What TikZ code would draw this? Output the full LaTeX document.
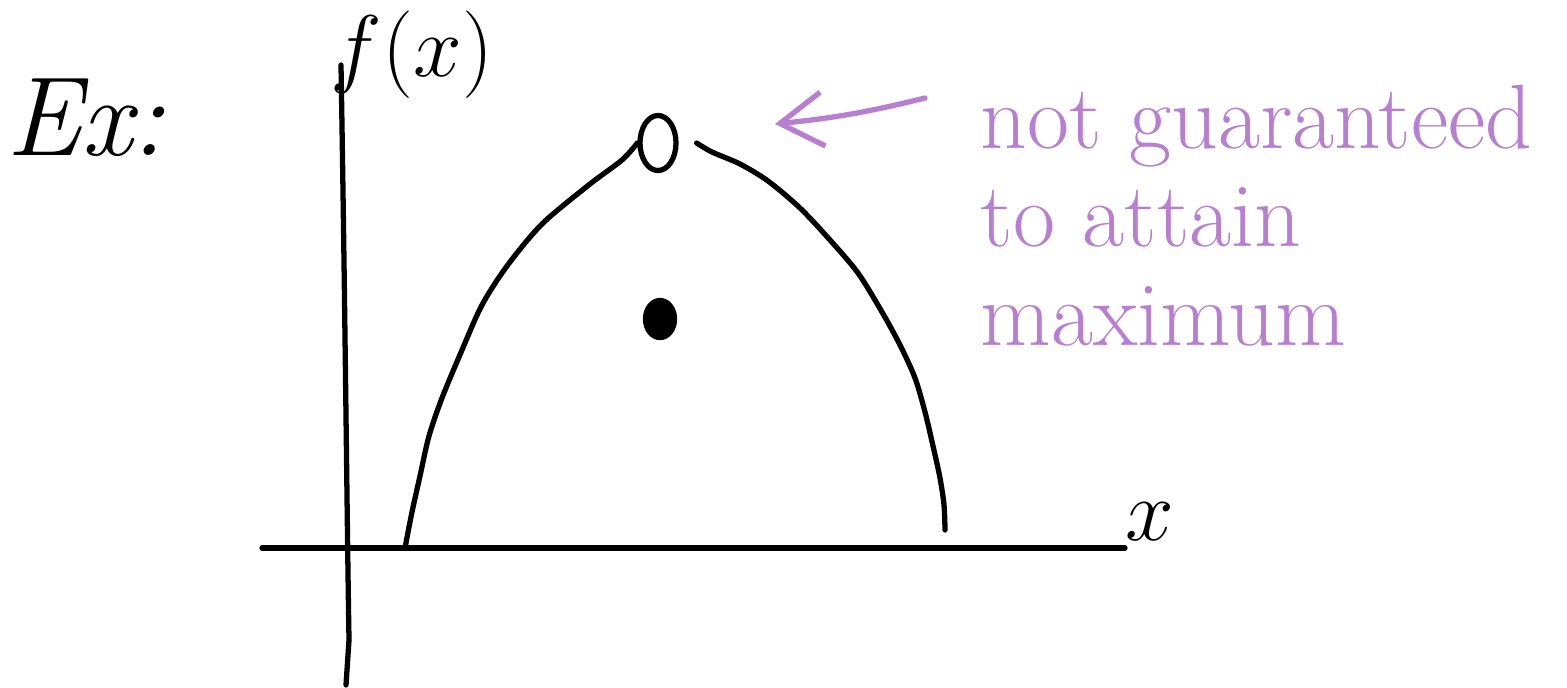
\documentclass[tikz,border=0pt]{standalone}
\usepackage{amsmath}
\usepackage{tikz}
\usetikzlibrary{arrows.meta, positioning, calc, shapes.geometric}
\definecolor{notec}{HTML}{B77ED1}
\tikzset{
  pen/.style={line width=1.5pt, line cap=round, line join=round},
  notepen/.style={pen, notec},
}

\begin{document}
\begin{tikzpicture}[x=0.01cm, y=-0.01cm,
          >={Straight Barb[length=4.3mm, width=5.4mm]}]
  \useasboundingbox (0,0) rectangle (1567,687);
  % axes
  \coordinate (ytop) at (341,65);
  \coordinate (ybot) at (346,685);
  \coordinate (xleft) at (262,548);
  \coordinate (xright) at (1125,548);
  \draw[pen] (ytop) .. controls (345,300) and (347,520) .. (349,640) -- (ybot);
  \draw[pen] (xleft) -- (xright);
  \node[font=\fontsize{24}{26}\selectfont] (fx) at (412,55) {$f(x)$};
  \node[font=\fontsize{26}{28}\selectfont] (xlab) at (1150,522) {$x$};
  \node[font=\fontsize{32}{36}\selectfont] (ex) at (86,118) {\textit{Ex:}};
  % the function, open at the top
  \node[ellipse, draw, pen, minimum width=3.6mm, minimum height=5.5mm,
        inner sep=0pt] (opencirc) at (658,143) {};
  \node[ellipse, draw, pen, fill=black, minimum width=2.9mm,
        minimum height=3.7mm, inner sep=0pt] (dot) at (660,319) {};
  \coordinate (lstart) at (405,548);
  \coordinate (rstart) at ($(opencirc.east)+(18,0)$);
  \coordinate (rend) at (945,530);
  \draw[pen] plot[smooth] coordinates {(lstart) (412,512) (420,476)
    (429,436) (442,398) (462,350) (482,305) (507,266) (542,224)
    (590,184) (622,160) (opencirc.west)};
  \draw[pen] plot[smooth] coordinates {(rstart) (712,152) (740,164)
    (768,181) (800,208) (830,240) (858,273) (882,312) (900,345)
    (915,378) (925,412) (933,446) (940,478) (944,505) (rend)};
  % note
  \node[notec, anchor=north west, align=left, inner sep=0pt,
        font=\fontsize{26}{28}\selectfont] (note) at (980,84)
    {not guaranteed\\to attain\\maximum};
  \coordinate (tail) at (925,98);
  \coordinate (tip) at (775,124);
  \draw[notepen, ->] (tail) to[bend left=4] (tip);
\end{tikzpicture}
\end{document}
